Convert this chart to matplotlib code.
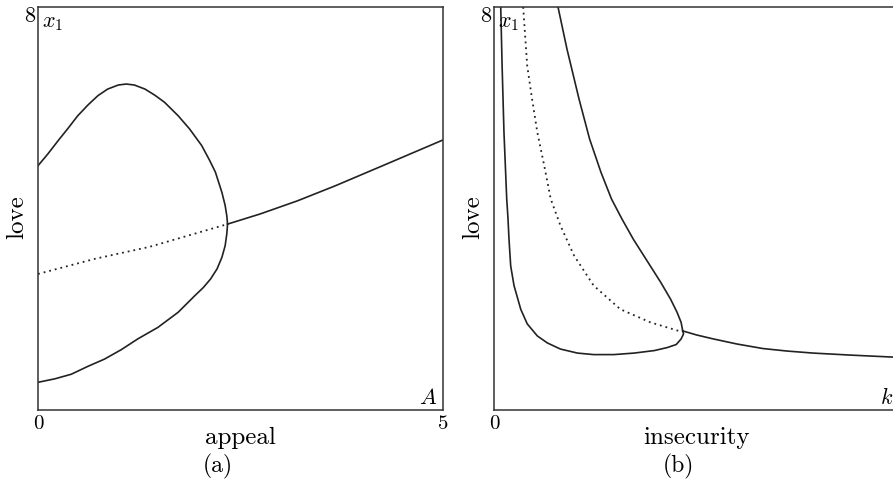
import matplotlib
matplotlib.use('Agg')
import matplotlib.pyplot as plt

# (a) love against appeal
a_upper_x = [0.0, 0.12, 0.25, 0.37, 0.49, 0.62, 0.74, 0.86, 0.99, 1.09, 1.19, 1.32, 1.44, 1.56,
             1.73, 1.87, 2.02, 2.12, 2.19, 2.23, 2.27, 2.31, 2.33, 2.34]
a_upper_y = [4.85, 5.08, 5.35, 5.59, 5.84, 6.06, 6.24, 6.37, 6.45, 6.47, 6.45, 6.37, 6.25, 6.11,
             5.84, 5.58, 5.25, 4.95, 4.72, 4.52, 4.32, 4.06, 3.86, 3.69]
a_lower_x = [2.34, 2.33, 2.31, 2.27, 2.21, 2.13, 2.04, 1.93, 1.73, 1.48, 1.23, 1.03, 0.82, 0.62,
             0.41, 0.21, 0.0]
a_lower_y = [3.69, 3.49, 3.26, 3.03, 2.80, 2.60, 2.43, 2.26, 1.94, 1.64, 1.41, 1.20, 1.01, 0.87,
             0.71, 0.62, 0.55]
a_unstable_x = [0.0, 0.70, 1.38, 2.34]
a_unstable_y = [2.70, 3.00, 3.24, 3.69]
a_stable_x = [2.34, 2.74, 3.20, 3.67, 4.30, 5.0]
a_stable_y = [3.69, 3.89, 4.15, 4.45, 4.88, 5.36]

# (b) love against insecurity
b_left_x = [0.083, 0.10, 0.123, 0.157, 0.173, 0.185, 0.206, 0.247, 0.33, 0.41, 0.535, 0.66, 0.82,
            1.03, 1.23, 1.48, 1.73, 1.98, 2.14, 2.25, 2.31, 2.34, 2.33]
b_left_y = [8.0, 6.83, 5.51, 4.19, 3.79, 3.39, 2.86, 2.47, 2.00, 1.71, 1.47, 1.33, 1.21,
            1.13, 1.10, 1.10, 1.13, 1.18, 1.24, 1.30, 1.41, 1.51, 1.57]
b_upper_x = [0.79, 0.90, 1.05, 1.18, 1.32, 1.45, 1.58, 1.72, 1.89, 2.06, 2.18, 2.26, 2.31, 2.33]
b_upper_y = [8.0, 7.17, 6.17, 5.38, 4.72, 4.19, 3.79, 3.39, 2.96, 2.53, 2.20, 1.94, 1.74, 1.57]
b_unstable_x = [0.36, 0.41, 0.47, 0.535, 0.62, 0.70, 0.82, 0.99, 1.23, 1.56, 1.93, 2.28]
b_unstable_y = [8.0, 6.83, 6.17, 5.51, 4.85, 4.19, 3.66, 3.06, 2.47, 2.00, 1.74, 1.57]
b_tail_x = [2.33, 2.50, 2.71, 3.00, 3.32, 3.62, 3.94, 4.40, 4.93, 5.0]
b_tail_y = [1.57, 1.49, 1.41, 1.31, 1.22, 1.17, 1.13, 1.09, 1.05, 1.04]

x_ticks = [0, 5]
x_tick_labels = ['0', '5']
y_top_label = '8'


def setup_axes(ax, xlabel, param):
    ax.set_xlim(0, 5)
    ax.set_ylim(0, 8)
    ax.set_xticks(x_ticks)
    ax.set_xticklabels(x_tick_labels)
    ax.set_yticks([])
    ax.tick_params(axis='x', length=0, pad=3, labelsize=15)
    for s in ax.spines.values():
        s.set_linewidth(1.1)
        s.set_color('#333333')
    ax.set_xlabel(xlabel, fontsize=18)
    ax.xaxis.set_label_coords(0.5, -0.04)
    ax.set_ylabel('love', fontsize=18)
    ax.yaxis.set_label_coords(-0.025, 0.48)
    ax.text(-0.008, 1.003, y_top_label, transform=ax.transAxes, ha='right', va='top', fontsize=16)
    ax.text(0.01, 0.985, r'$x_1$', transform=ax.transAxes, ha='left', va='top', fontsize=16)
    ax.text(0.985, 0.008, param, transform=ax.transAxes, ha='right', va='bottom', fontsize=16)


def main():
    plt.rcParams['font.family'] = 'serif'
    plt.rcParams['font.serif'] = ['cmr10', 'DejaVu Serif']
    plt.rcParams['mathtext.fontset'] = 'cm'

    fig = plt.figure(figsize=(8.93, 4.81), dpi=100)
    ax1 = fig.add_axes([0.0426, 0.1455, 0.4535, 0.838])
    ax2 = fig.add_axes([0.5532, 0.1455, 0.4535, 0.838])

    lc = '#222222'
    solid = dict(color=lc, lw=1.2)
    dotted = dict(color=lc, lw=1.3, linestyle=(0, (1, 2.2)))

    ax1.plot(a_upper_x, a_upper_y, **solid)
    ax1.plot(a_lower_x, a_lower_y, **solid)
    ax1.plot(a_unstable_x, a_unstable_y, **dotted)
    ax1.plot(a_stable_x, a_stable_y, **solid)
    setup_axes(ax1, 'appeal', r'$A$')

    ax2.plot(b_left_x, b_left_y, **solid)
    ax2.plot(b_upper_x, b_upper_y, **solid)
    ax2.plot(b_unstable_x, b_unstable_y, **dotted)
    ax2.plot(b_tail_x, b_tail_y, **solid)
    setup_axes(ax2, 'insecurity', r'$k$')

    fig.text(218 / 893, 1 - 466 / 481, '(a)', ha='center', va='center', fontsize=17)
    fig.text(678 / 893, 1 - 466 / 481, '(b)', ha='center', va='center', fontsize=17)

    fig.savefig('out.png', dpi=100)


if __name__ == '__main__':
    main()
